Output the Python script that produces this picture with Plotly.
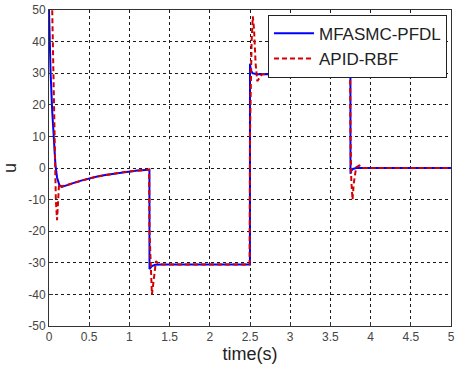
import plotly.graph_objects as go

# ---- data ----
t_mfasmc = [0, 0.005, 0.02, 0.04, 0.06, 0.08, 0.1, 0.13, 0.16, 0.2, 0.3, 0.4, 0.5, 0.6, 0.7, 0.8, 0.9, 1.0, 1.1, 1.2, 1.249,
            1.25, 1.26, 1.28, 1.32, 1.4, 2.499,
            2.5, 2.51, 2.53, 2.56, 2.6, 3.749,
            3.75, 3.76, 3.78, 3.82, 3.9, 5.0]
u_mfasmc = [50, 42, 30, 18, 8, 1, -3, -5.5, -6, -5.6, -4.8, -4.0, -3.3, -2.7, -2.2, -1.8, -1.4, -1.1, -0.8, -0.6, -0.5,
            -32, -31.5, -31, -30.6, -30.5, -30.5,
            33, 31, 30, 29.8, 29.7, 29.7,
            -1.8, -0.8, -0.3, 0, 0, 0]

t_apid = [0, 0.03, 0.04, 0.05, 0.06, 0.075, 0.085, 0.1, 0.11, 0.125, 0.15, 0.2, 0.3, 0.4, 0.5, 0.6, 0.7, 0.8, 0.9, 1.0, 1.1, 1.2, 1.245,
          1.25, 1.265, 1.28, 1.3, 1.33, 1.36, 1.4, 2.495,
          2.5, 2.52, 2.535, 2.55, 2.57, 2.59, 2.62, 2.65, 2.7, 3.745,
          3.75, 3.76, 3.775, 3.79, 3.82, 3.86, 3.9, 5.0]
u_apid = [60, 55, 50, 35, 20, 0, -10, -16.5, -10, -5, -5.8, -5.6, -4.8, -4.0, -3.3, -2.7, -2.2, -1.8, -1.4, -1.1, -0.8, -0.6, -0.5,
          -20, -33, -40, -36, -29.5, -30.3, -30.5, -30.5,
          10, 40, 48, 44, 33, 27.5, 28.5, 29.7, 29.7, 29.7,
          10, -4, -10, -5, 0.2, 0.8, 0, 0]

x_ticks = [0, 0.5, 1, 1.5, 2, 2.5, 3, 3.5, 4, 4.5, 5]
x_ticklabels = ["0", "0.5", "1", "1.5", "2", "2.5", "3", "3.5", "4", "4.5", "5"]
y_ticks = [-50, -40, -30, -20, -10, 0, 10, 20, 30, 40, 50]
y_ticklabels = ["-50", "-40", "-30", "-20", "-10", "0", "10", "20", "30", "40", "50"]

FONT = "Liberation Sans, Arial, sans-serif"

fig = go.Figure()
fig.add_trace(go.Scatter(x=t_mfasmc, y=u_mfasmc, mode="lines", name="MFASMC-PFDL",
                         line=dict(color="#0000ff", width=2)))
fig.add_trace(go.Scatter(x=t_apid, y=u_apid, mode="lines", name="APID-RBF",
                         line=dict(color="#d40000", width=2, dash="5px,3px")))

axis_common = dict(showline=True, linecolor="#333333", linewidth=1, mirror=True,
                   showgrid=True, gridcolor="#1a1a1a", gridwidth=1, griddash="dot",
                   ticks="inside", ticklen=4, tickcolor="#333333", zeroline=False,
                   automargin=False, ticklabeloverflow="allow",
                   tickfont=dict(family=FONT, size=12, color="#444444"))

fig.update_xaxes(range=[0, 5], tickvals=x_ticks, ticktext=x_ticklabels,
                 title=dict(text="time(s)", font=dict(family=FONT, size=18, color="#222222"), standoff=2),
                 **axis_common)
fig.update_yaxes(range=[-50, 50], tickvals=y_ticks, ticktext=y_ticklabels,
                 title=dict(text="u", font=dict(family=FONT, size=18, color="#222222"), standoff=14),
                 **axis_common)

fig.update_layout(
    width=455, height=374,
    margin=dict(l=49, r=4, t=10, b=48),
    plot_bgcolor="white", paper_bgcolor="white",
    legend=dict(x=0.99, y=0.985, xanchor="right", yanchor="top",
                bgcolor="white", bordercolor="#222222", borderwidth=1,
                font=dict(family=FONT, size=17, color="#222222"),
                tracegroupgap=0, itemwidth=40),
    showlegend=True,
)

fig.write_html("out.html", config={"displayModeBar": False},
               post_script="document.body.style.margin='0';")
